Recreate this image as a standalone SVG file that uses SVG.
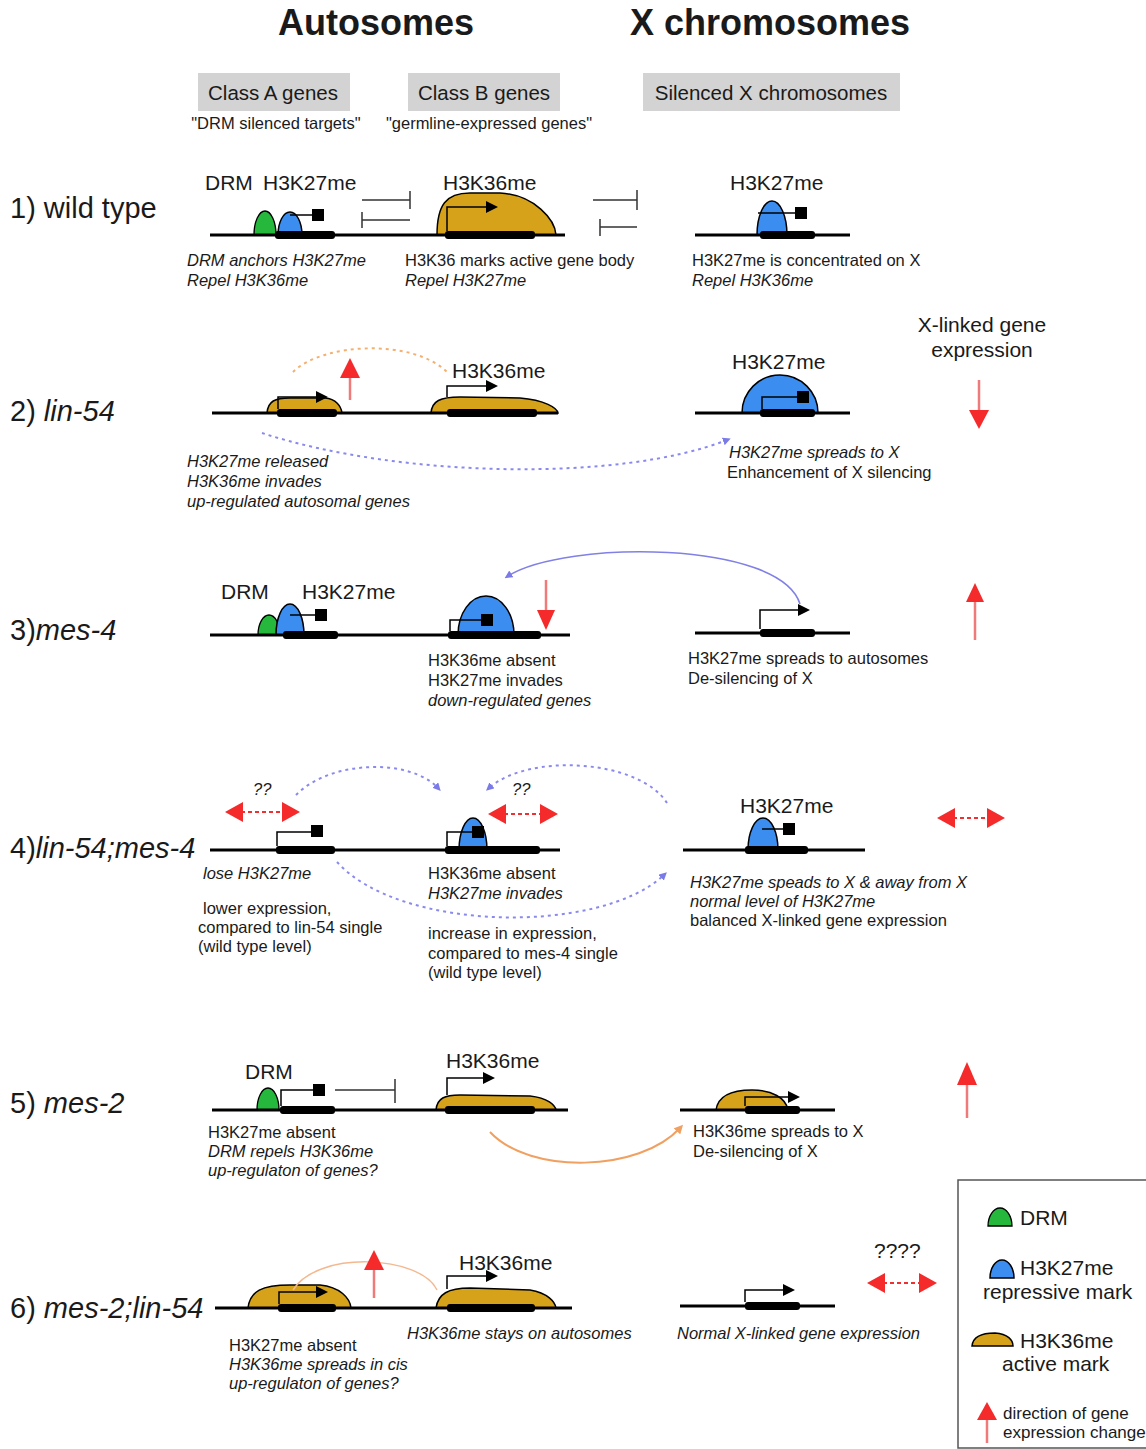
<svg xmlns="http://www.w3.org/2000/svg" width="1146" height="1449" viewBox="0 0 1146 1449">
<style>
text{font-family:"Liberation Sans",Arial,sans-serif;fill:#1a1a1a}
.h{font-size:36px;font-weight:bold}
.hb{font-size:20.5px}
.q{font-size:16.5px}
.row{font-size:29px}
.g{font-size:21px}
.c{font-size:16.5px}
.i{font-style:italic}
.chr{stroke:#000;stroke-width:3;fill:none}
.prom{stroke:#000;stroke-width:1.5;fill:none}
.drm{fill:#25b83c;stroke:#000;stroke-width:1.3}
.k27{fill:#3b8ef0;stroke:#000;stroke-width:1.5}
.k36{fill:#d6a21a;stroke:#000;stroke-width:1.5}
.inh{stroke:#333;stroke-width:1.5;fill:none}
.rdash{stroke:#f03030;stroke-width:2;stroke-dasharray:4 3;fill:none}
.rhead{fill:#f52a2a}
.rshaft{stroke:#f07a7a;stroke-width:2.5}
.pur{stroke:#8a8aee;stroke-width:2;stroke-dasharray:3 4;fill:none}
.purs{stroke:#8080e6;stroke-width:1.6;fill:none}
.ord{stroke:#f4b070;stroke-width:2;stroke-dasharray:3 4;fill:none}
.ors{stroke:#f0a060;stroke-width:2;fill:none}
.box{fill:#d3d3d3}
.lg{font-size:17px}
</style>
<defs>
<marker id="pa" viewBox="0 0 12 12" refX="2" refY="6" markerWidth="12" markerHeight="12" markerUnits="userSpaceOnUse" orient="auto"><path d="M0,0 L12,6 L0,12 Z" fill="#000"/></marker>
<marker id="pb" viewBox="0 0 10 10" refX="5" refY="5" markerWidth="8" markerHeight="8" markerUnits="userSpaceOnUse" orient="auto"><path d="M0,0 L10,5 L0,10 Z" fill="#7b7be8"/></marker>
<marker id="ob" viewBox="0 0 10 10" refX="5" refY="5" markerWidth="9" markerHeight="9" markerUnits="userSpaceOnUse" orient="auto"><path d="M0,0 L10,5 L0,10 Z" fill="#f0a060"/></marker>
</defs>

<g id="header">
<text class="h" x="376" y="35" text-anchor="middle">Autosomes</text>
<text class="h" x="770" y="35" text-anchor="middle">X chromosomes</text>
<rect class="box" x="198" y="73" width="152" height="38"/>
<text class="hb" x="273" y="100" text-anchor="middle">Class A genes</text>
<rect class="box" x="408" y="73" width="152" height="38"/>
<text class="hb" x="484" y="100" text-anchor="middle">Class B genes</text>
<rect class="box" x="643" y="73" width="257" height="38"/>
<text class="hb" x="771" y="100" text-anchor="middle">Silenced X chromosomes</text>
<text class="q" x="276" y="129" text-anchor="middle">"DRM silenced targets"</text>
<text class="q" x="489" y="129" text-anchor="middle">"germline-expressed genes"</text>
</g>

<g id="row-labels">
<text class="row" x="10" y="218">1) wild type</text>
<text class="row" x="10" y="421">2) <tspan class="i">lin-54</tspan></text>
<text class="row" x="10" y="640">3)<tspan class="i">mes-4</tspan></text>
<text class="row" x="10" y="858">4)<tspan class="i">lin-54;mes-4</tspan></text>
<text class="row" x="10" y="1113">5) <tspan class="i">mes-2</tspan></text>
<text class="row" x="10" y="1318">6) <tspan class="i">mes-2;lin-54</tspan></text>
</g>

<!-- Row 1 -->
<g id="r1-auto">
<path class="drm" d="M254,235 A11,24 0 0 1 276,235 Z"/>
<path class="k27" d="M278,235 A12,23 0 0 1 302,235 Z"/>
<path class="k36" d="M437,235 C437,205 446,193 470,193 L500,193 C535,195 555,220 556,235 Z"/>
<path class="chr" d="M210,235 H565"/>
<rect x="275" y="231" width="60" height="8" rx="3"/>
<rect x="445" y="231" width="90" height="8" rx="3"/>
<path class="prom" d="M290,215 H312"/>
<rect x="312" y="209" width="12" height="12"/>
<path class="prom" d="M447,231 V207 H488" marker-end="url(#pa)"/>
<text class="g" x="205" y="190">DRM</text>
<text class="g" x="263" y="190">H3K27me</text>
<text class="g" x="443" y="190">H3K36me</text>
<text class="c i" x="187" y="266">DRM anchors H3K27me</text>
<text class="c i" x="187" y="286">Repel H3K36me</text>
<text class="c" x="405" y="266">H3K36 marks active gene body</text>
<text class="c i" x="405" y="286">Repel H3K27me</text>
</g>
<g id="r1-x">
<path class="k27" d="M757,235 A15,34 0 0 1 787,235 Z"/>
<path class="chr" d="M695,235 H850"/>
<rect x="760" y="231" width="55" height="8" rx="3"/>
<path class="prom" d="M758,213 H795"/>
<rect x="795" y="207" width="12" height="12"/>
<text class="g" x="730" y="190">H3K27me</text>
<text class="c" x="692" y="266">H3K27me is concentrated on X</text>
<text class="c i" x="692" y="286">Repel H3K36me</text>
</g>

<!-- Row 2 -->
<g id="r2-auto">
<path class="k36" d="M267,413 C268,401 275,398 290,398 L325,398 C336,399 341,406 342,413 Z"/>
<path class="k36" d="M431,413 C432,401 440,397 460,397 L520,398 C545,400 557,408 558,413 Z"/>
<path class="chr" d="M212,413 H558"/>
<rect x="277" y="409" width="60" height="8" rx="3"/>
<rect x="447" y="409" width="90" height="8" rx="3"/>
<path class="prom" d="M278,409 V397 H318" marker-end="url(#pa)"/>
<path class="prom" d="M447,397 V386 H488" marker-end="url(#pa)"/>
<text class="g" x="452" y="378">H3K36me</text>
<text class="c i" x="187" y="467">H3K27me released</text>
<text class="c i" x="187" y="487">H3K36me invades</text>
<text class="c i" x="187" y="507">up-regulated autosomal genes</text>
</g>
<g id="r2-x">
<path class="k27" d="M742,413 A38,38 0 0 1 818,413 Z"/>
<path class="chr" d="M695,413 H850"/>
<rect x="760" y="409" width="55" height="8" rx="3"/>
<path class="prom" d="M762,409 V397 H797"/>
<rect x="797" y="391" width="12" height="12"/>
<text class="g" x="732" y="369">H3K27me</text>
<text class="c i" x="729" y="458">H3K27me spreads to X</text>
<text class="c" x="727" y="478">Enhancement of X silencing</text>
</g>
<g id="r2-expr">
<text class="g" x="982" y="332" text-anchor="middle">X-linked gene</text>
<text class="g" x="982" y="357" text-anchor="middle">expression</text>
</g>

<!-- Row 3 -->
<g id="r3-auto">
<path class="drm" d="M258,635 A11,20 0 0 1 280,635 Z"/>
<path class="k27" d="M276,635 A14,31 0 0 1 304,635 Z"/>
<path class="k27" d="M458,635 A28,39 0 0 1 514,635 Z"/>
<path class="chr" d="M210,635 H570"/>
<rect x="283" y="631" width="55" height="8" rx="3"/>
<rect x="448" y="631" width="93" height="8" rx="3"/>
<path class="prom" d="M290,615 H315"/>
<rect x="315" y="609" width="12" height="12"/>
<path class="prom" d="M450,631 V620 H481"/>
<rect x="481" y="614" width="12" height="12"/>
<text class="g" x="221" y="599">DRM</text>
<text class="g" x="302" y="599">H3K27me</text>
<text class="c" x="428" y="666">H3K36me absent</text>
<text class="c" x="428" y="686">H3K27me invades</text>
<text class="c i" x="428" y="706">down-regulated genes</text>
</g>
<g id="r3-x">
<path class="chr" d="M695,633 H850"/>
<rect x="760" y="629" width="55" height="8" rx="3"/>
<path class="prom" d="M760,629 V610 H800" marker-end="url(#pa)"/>
<text class="c" x="688" y="664">H3K27me spreads to autosomes</text>
<text class="c" x="688" y="684">De-silencing of X</text>
</g>

<!-- Row 4 -->
<g id="r4-auto">
<path class="k27" d="M459,850 A14,32 0 0 1 487,850 Z"/>
<path class="chr" d="M210,850 H560"/>
<rect x="276" y="846" width="59" height="8" rx="3"/>
<rect x="445" y="846" width="95" height="8" rx="3"/>
<path class="prom" d="M277,846 V832 H311"/>
<rect x="311" y="825" width="12" height="12"/>
<path class="prom" d="M447,846 V832 H472"/>
<rect x="472" y="826" width="12" height="12"/>
<text class="c i" x="253" y="795">??</text>
<text class="c i" x="512" y="795">??</text>
<text class="c i" x="203" y="879">lose H3K27me</text>
<text class="c" x="203" y="914">lower expression,</text>
<text class="c" x="198" y="933">compared to lin-54 single</text>
<text class="c" x="198" y="952">(wild type level)</text>
<text class="c" x="428" y="879">H3K36me absent</text>
<text class="c i" x="428" y="899">H3K27me invades</text>
<text class="c" x="428" y="939">increase in expression,</text>
<text class="c" x="428" y="959">compared to mes-4 single</text>
<text class="c" x="428" y="978">(wild type level)</text>
</g>
<g id="r4-x">
<path class="k27" d="M748,850 A15,32 0 0 1 778,850 Z"/>
<path class="chr" d="M683,850 H865"/>
<rect x="745" y="846" width="63" height="8" rx="3"/>
<path class="prom" d="M762,829 H783"/>
<rect x="783" y="823" width="12" height="12"/>
<text class="g" x="740" y="813">H3K27me</text>
<text class="c i" x="690" y="888">H3K27me speads to X &amp; away from X</text>
<text class="c i" x="690" y="907">normal level of H3K27me</text>
<text class="c" x="690" y="926">balanced X-linked gene expression</text>
</g>

<!-- Row 5 -->
<g id="r5-auto">
<path class="drm" d="M257,1110 A11,22 0 0 1 279,1110 Z"/>
<path class="k36" d="M436,1110 C437,1098 445,1095 460,1095 L530,1096 C548,1098 555,1105 556,1110 Z"/>
<path class="chr" d="M212,1110 H568"/>
<rect x="280" y="1106" width="55" height="8" rx="3"/>
<rect x="445" y="1106" width="90" height="8" rx="3"/>
<path class="prom" d="M281,1106 V1090 H313"/>
<rect x="313" y="1084" width="12" height="12"/>
<path class="inh" d="M335,1090 H395 M395,1079 V1103"/>
<path class="prom" d="M447,1095 V1078 H485" marker-end="url(#pa)"/>
<text class="g" x="245" y="1079">DRM</text>
<text class="g" x="446" y="1068">H3K36me</text>
<text class="c" x="208" y="1138">H3K27me absent</text>
<text class="c i" x="208" y="1157">DRM repels H3K36me</text>
<text class="c i" x="208" y="1176">up-regulaton of genes?</text>
</g>
<g id="r5-x">
<path class="k36" d="M716,1110 C718,1096 732,1090 752,1090 C772,1090 786,1098 788,1110 Z"/>
<path class="chr" d="M680,1110 H835"/>
<rect x="745" y="1106" width="55" height="8" rx="3"/>
<path class="prom" d="M745,1106 V1097 H790" marker-end="url(#pa)"/>
<text class="c" x="693" y="1137">H3K36me spreads to X</text>
<text class="c" x="693" y="1157">De-silencing of X</text>
</g>

<!-- Row 6 -->
<g id="r6-auto">
<path class="k36" d="M248,1308 C250,1291 262,1285 290,1285 L320,1285 C340,1287 350,1298 351,1308 Z"/>
<path class="k36" d="M436,1308 C438,1294 448,1288 470,1288 L530,1290 C548,1293 555,1302 556,1308 Z"/>
<path class="chr" d="M215,1308 H572"/>
<rect x="278" y="1304" width="58" height="8" rx="3"/>
<rect x="447" y="1304" width="88" height="8" rx="3"/>
<path class="prom" d="M279,1304 V1292 H318" marker-end="url(#pa)"/>
<path class="prom" d="M447,1289 V1276 H488" marker-end="url(#pa)"/>
<text class="g" x="459" y="1270">H3K36me</text>
<text class="c" x="229" y="1351">H3K27me absent</text>
<text class="c i" x="229" y="1370">H3K36me spreads in cis</text>
<text class="c i" x="229" y="1389">up-regulaton of genes?</text>
<text class="c i" x="407" y="1339">H3K36me stays on autosomes</text>
</g>
<g id="r6-x">
<path class="chr" d="M680,1306 H835"/>
<rect x="745" y="1302" width="55" height="8" rx="3"/>
<path class="prom" d="M745,1302 V1290 H785" marker-end="url(#pa)"/>
<text class="c i" x="677" y="1339">Normal X-linked gene expression</text>
<text class="g" x="874" y="1258">????</text>
</g>

<g id="connectors">
<path class="inh" d="M362,200 H410 M410,191 V209"/>
<path class="inh" d="M362,220 H410 M362,212 V228"/>
<path class="inh" d="M593,200 H637 M637,190 V210"/>
<path class="inh" d="M600,227 H637 M600,219 V236"/>
<path class="ord" d="M293,372 C322,343 412,338 447,372"/>
<path class="pur" d="M262,433 C400,478 620,482 727,440" marker-end="url(#pb)"/>
<path class="purs" d="M800,604 C780,540 565,540 508,576" marker-end="url(#pb)"/>
<path class="pur" d="M296,795 C330,760 410,758 438,788" marker-end="url(#pb)"/>
<path class="pur" d="M667,803 C640,760 530,752 489,788" marker-end="url(#pb)"/>
<path class="pur" d="M337,862 C400,932 600,935 664,875" marker-end="url(#pb)"/>
<path class="ors" d="M490,1132 C530,1175 640,1172 680,1128" marker-end="url(#ob)"/>
<path class="ors" d="M437,1290 C420,1255 318,1250 293,1290" style="stroke:#f4b890;stroke-width:1.5"/>
</g>

<g id="expression-arrows">
<line class="rshaft" x1="350" y1="376" x2="350" y2="400"/>
<polygon class="rhead" points="340,378 350,358 360,378"/>
<line class="rshaft" x1="979" y1="380" x2="979" y2="412"/>
<polygon class="rhead" points="969,410 989,410 979,429"/>
<line class="rshaft" x1="546" y1="580" x2="546" y2="612"/>
<polygon class="rhead" points="537,610 555,610 546,630"/>
<line class="rshaft" x1="975" y1="600" x2="975" y2="640"/>
<polygon class="rhead" points="966,602 975,583 984,602"/>
<path class="rdash" d="M241,812 H284"/>
<polygon class="rhead" points="225,812 243,802 243,822"/>
<polygon class="rhead" points="300,812 282,802 282,822"/>
<path class="rdash" d="M504,814 H542"/>
<polygon class="rhead" points="488,814 506,804 506,824"/>
<polygon class="rhead" points="558,814 540,804 540,824"/>
<path class="rdash" d="M953,818 H989"/>
<polygon class="rhead" points="937,818 955,808 955,828"/>
<polygon class="rhead" points="1005,818 987,808 987,828"/>
<line class="rshaft" x1="967" y1="1083" x2="967" y2="1118"/>
<polygon class="rhead" points="957,1085 967,1062 977,1085"/>
<line class="rshaft" x1="374" y1="1268" x2="374" y2="1298"/>
<polygon class="rhead" points="364,1270 374,1250 384,1270"/>
<path class="rdash" d="M883,1283 H921"/>
<polygon class="rhead" points="867,1283 885,1273 885,1293"/>
<polygon class="rhead" points="937,1283 919,1273 919,1293"/>
</g>

<g id="legend">
<rect x="958" y="1180" width="200" height="268" fill="#fff" stroke="#555" stroke-width="1.5"/>
<path class="drm" d="M988,1226 A12,18 0 0 1 1012,1226 Z"/>
<text class="g" x="1020" y="1225">DRM</text>
<path class="k27" d="M990,1278 A12,18 0 0 1 1014,1278 Z"/>
<text class="g" x="1020" y="1275">H3K27me</text>
<text class="g" x="983" y="1299">repressive mark</text>
<path class="k36" d="M972,1346 C973,1336 982,1333 995,1333 C1008,1334 1013,1340 1013,1346 Z"/>
<text class="g" x="1020" y="1348">H3K36me</text>
<text class="g" x="1002" y="1371">active mark</text>
<line class="rshaft" x1="987" y1="1418" x2="987" y2="1443"/>
<polygon class="rhead" points="977,1420 987,1402 997,1420"/>
<text class="lg" x="1003" y="1419">direction of gene</text>
<text class="lg" x="1003" y="1438">expression change</text>
</g>
</svg>
